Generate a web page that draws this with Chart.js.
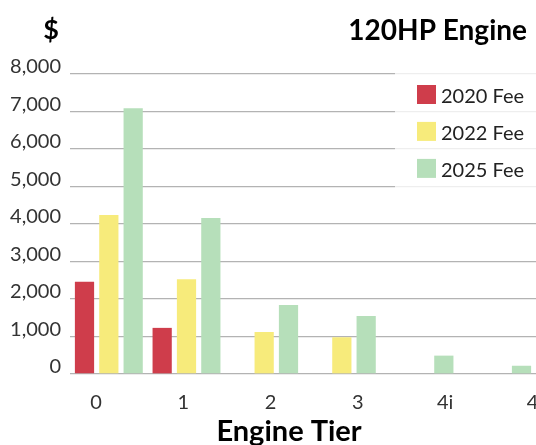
<!DOCTYPE html>
<html>
<head>
<meta charset="utf-8">
<script src="https://cdn.jsdelivr.net/npm/chart.js@4.4.1/dist/chart.umd.min.js"></script>
<style>
  html, body { margin: 0; padding: 0; background: #ffffff; }
  #wrap { width: 536px; height: 445px; }
</style>
</head>
<body>
<div id="wrap"><canvas id="c" width="536" height="445"></canvas></div>
<script>
const tiers = ["0", "1", "2", "3", "4i", "4"];
const seriesNames = ["2020 Fee", "2022 Fee", "2025 Fee"];
const fee2020 = [2460, 1230, null, null, null, null];
const fee2022 = [4240, 2530, 1120, 980, null, null];
const fee2025 = [7090, 4160, 1840, 1550, 490, 220];
const yTicks = [0, 1000, 2000, 3000, 4000, 5000, 6000, 7000, 8000];
const tierPositions = [0, 1, 2, 3, 4, 5];
const chartTitle = "120HP Engine";
const unitLabel = "$";
const xTitle = "Engine Tier";

const colors = ["#CF3D4B", "#F7EB7B", "#B6DFBA"];
const FONT = "Lato, 'Open Sans', sans-serif";

const overlayPlugin = {
  id: "overlay",
  afterDatasetsDraw(chart) {
    const ctx = chart.ctx;
    ctx.save();
    // legend background
    ctx.fillStyle = "rgba(255,255,255,0.78)";
    ctx.fillRect(395, 70, 141, 122);
    const centers = [94.5, 131.4, 168.4];
    chart.data.datasets.forEach((ds, i) => {
      ctx.fillStyle = ds.backgroundColor;
      ctx.fillRect(417, centers[i] - 9.5, 19, 19);
      ctx.fillStyle = "#222222";
      ctx.font = "20px " + FONT;
      ctx.textAlign = "left";
      ctx.textBaseline = "middle";
      ctx.fillText(ds.label, 441, centers[i] + 2);
    });
    // "$" unit label
    ctx.fillStyle = "#000000";
    ctx.font = "bold 27px " + FONT;
    ctx.textAlign = "center";
    ctx.textBaseline = "middle";
    ctx.fillText(unitLabel, 51, 30);
    // chart title
    ctx.textAlign = "right";
    ctx.font = "bold 28px " + FONT;
    ctx.fillText(chartTitle, 527, 31);
    // x axis title
    ctx.textAlign = "center";
    ctx.font = "bold 29px " + FONT;
    ctx.fillText(xTitle, 289, 432);
    ctx.restore();
  }
};

new Chart(document.getElementById("c"), {
  type: "bar",
  data: {
    labels: tiers,
    datasets: [
      { label: seriesNames[0], data: fee2020, backgroundColor: colors[0] },
      { label: seriesNames[1], data: fee2022, backgroundColor: colors[1] },
      { label: seriesNames[2], data: fee2025, backgroundColor: colors[2] }
    ]
  },
  options: {
    responsive: false,
    animation: false,
    devicePixelRatio: 1,
    layout: { padding: { left: 0, right: 0, top: 74, bottom: 0 } },
    datasets: { bar: { barPercentage: 0.79, categoryPercentage: 0.94 } },
    plugins: {
      legend: { display: false },
      tooltip: { enabled: false },
      title: { display: false }
    },
    scales: {
      x: {
        type: "category",
        display: false,
        offset: true
      },
      x2: {
        type: "linear",
        position: "bottom",
        offset: false,
        min: -0.298,
        max: 5.04,
        grid: { display: false, drawTicks: false, offset: false },
        border: { display: false },
        afterBuildTicks(scale) {
          scale.ticks = tierPositions.map(v => ({ value: v }));
        },
        afterFit(scale) {
          scale.height = 71;
          scale.paddingLeft = 0;
          scale.paddingRight = 0;
        },
        ticks: {
          color: "#333333",
          font: { family: FONT, size: 20 },
          padding: 17,
          maxRotation: 0,
          autoSkip: false,
          callback: (v) => tiers[v]
        }
      },
      y: {
        min: 0,
        max: 8000,
        afterBuildTicks(scale) {
          scale.ticks = yTicks.map(v => ({ value: v }));
        },
        afterFit(scale) { scale.width = 70; },
        grid: { color: "#b3b3b3", lineWidth: 1.3, drawTicks: false },
        border: { display: false },
        ticks: {
          color: "#333333",
          font: { family: FONT, size: 20 },
          padding: 9,
          labelOffset: -7,
          callback: (v) => v.toLocaleString("en-US")
        }
      }
    }
  },
  plugins: [overlayPlugin]
});
</script>
</body>
</html>
